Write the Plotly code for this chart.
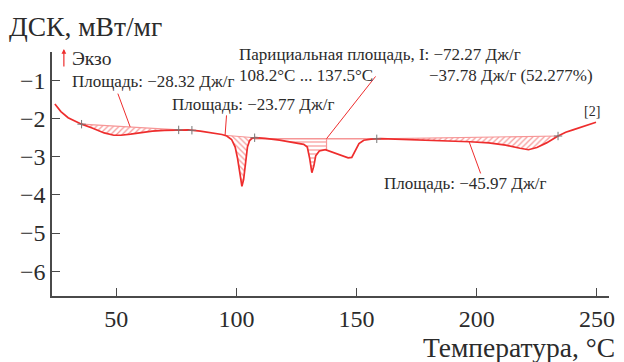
import numpy as np
import plotly.graph_objects as go

# ---- data ----
temperature = [24.5, 27, 30, 33, 35.6, 40, 45, 49, 52, 56, 60, 65, 70, 75, 80, 85, 90, 94, 96, 98,
               99.5, 100.5, 101.5, 102.3, 103, 103.8, 104.6, 105.5, 106.5, 108, 112, 118, 124, 128,
               129.5, 130.5, 131.4, 132.2, 133, 134.5, 137, 140, 144, 146.5, 148, 149.5, 151, 153,
               156, 160, 170, 180, 190, 197, 205, 212, 218, 221.5, 225, 229, 233.8, 237, 240, 245, 249.6]
dsc = [-1.62, -1.82, -1.98, -2.08, -2.15, -2.25, -2.38, -2.44, -2.44, -2.41, -2.37, -2.33, -2.31,
       -2.30, -2.30, -2.33, -2.37, -2.42, -2.46, -2.55, -2.75, -3.05, -3.45, -3.78, -3.6, -3.1,
       -2.75, -2.58, -2.52, -2.50, -2.52, -2.57, -2.63, -2.68, -2.75, -3.05, -3.42, -3.25, -2.98,
       -2.85, -2.82, -2.88, -2.96, -3.03, -3.02, -2.85, -2.66, -2.57, -2.54, -2.53, -2.55, -2.57,
       -2.59, -2.61, -2.64, -2.70, -2.78, -2.82, -2.76, -2.64, -2.46, -2.36, -2.30, -2.20, -2.10]

# integration limits (T) and hatch style
area_limits = [(35.6, 76.0), (95.0, 107.6), (158.4, 233.8)]
area_hatch = ["/", "\\", "/"]
partial_baseline = (107.6, 158.4, -2.53)
partial_limits = (108.2, 137.5)
marker_T = [35.6, 76.0, 81.5, 107.6, 158.4, 233.8]

x_ticks = [50, 100, 150, 200, 250]
y_ticks = [-1, -2, -3, -4, -5, -6]

RED = "rgb(238,45,45)"
PINK = "rgb(246,150,150)"
TXT = "#2b2b2b"
FONT = "Liberation Serif"

T = np.array(temperature)
D = np.array(dsc)

def curve_at(t):
    return float(np.interp(t, T, D))

fig = go.Figure()

# hatched areas under straight baselines
for (a, b), h in zip(area_limits, area_hatch):
    mask = (T > a) & (T < b)
    xs = [a] + list(T[mask]) + [b]
    ys = [curve_at(a)] + list(D[mask]) + [curve_at(b)]
    fig.add_trace(go.Scatter(x=xs + [a], y=ys + [curve_at(a)], mode="lines", fill="toself",
                             line=dict(width=0), fillcolor="rgba(0,0,0,0)",
                             fillpattern=dict(shape=h, fgcolor=RED, bgcolor="rgba(0,0,0,0)",
                                              size=4, solidity=0.3),
                             hoverinfo="skip", showlegend=False))
    fig.add_trace(go.Scatter(x=[a, b], y=[curve_at(a), curve_at(b)], mode="lines",
                             line=dict(color=PINK, width=1.2), hoverinfo="skip", showlegend=False))

# partial area
pa, pb = partial_limits
bx0, bx1, by = partial_baseline
mask = (T > pa) & (T < pb)
xs = [pa] + list(T[mask]) + [pb, pb, pa]
ys = [curve_at(pa)] + list(D[mask]) + [curve_at(pb), by, by]
fig.add_trace(go.Scatter(x=xs, y=ys, mode="lines", fill="toself", line=dict(width=0),
                         fillcolor="rgba(0,0,0,0)",
                         fillpattern=dict(shape="-", fgcolor=RED, bgcolor="rgba(0,0,0,0)",
                                          size=4, solidity=0.3),
                         hoverinfo="skip", showlegend=False))
fig.add_trace(go.Scatter(x=[bx0, bx1], y=[by, by], mode="lines",
                         line=dict(color=PINK, width=1.5), hoverinfo="skip", showlegend=False))
fig.add_trace(go.Scatter(x=[pb, pb], y=[by, curve_at(pb)], mode="lines",
                         line=dict(color=PINK, width=1.2), hoverinfo="skip", showlegend=False))

# main curve
fig.add_trace(go.Scatter(x=temperature, y=dsc, mode="lines",
                         line=dict(color=RED, width=1.7), showlegend=False))

# plus markers
fig.add_trace(go.Scatter(x=marker_T, y=[curve_at(t) for t in marker_T], mode="markers",
                         marker=dict(symbol="line-ns", size=6, line=dict(color="#777", width=1)),
                         showlegend=False))
fig.add_trace(go.Scatter(x=marker_T, y=[curve_at(t) for t in marker_T], mode="markers",
                         marker=dict(symbol="line-ew", size=6, line=dict(color="#777", width=1)),
                         showlegend=False))

# layout geometry
W, H = 624, 362
L, R, TOP, B = 52, 9, 52, 66
pw, ph = W - L - R, H - TOP - B

def px(x):
    return (x - L) / pw

def py(y):
    return (H - B - y) / ph

# leader lines (data coords)
leaders = [((50.7, -1.35), (55.8, -2.22)),
           ((95.9, -1.92), (95.3, -2.44)),
           ((157.9, -0.90), (137.5, -2.53)),
           ((196.8, -2.61), (201.6, -3.44))]
for (x0, y0), (x1, y1) in leaders:
    fig.add_shape(type="line", x0=x0, y0=y0, x1=x1, y1=y1, xref="x", yref="y",
                  line=dict(color=RED, width=1))

def label(text, x, y, size=17, anchor="left"):
    fig.add_annotation(text=text, x=px(x), y=py(y), xref="paper", yref="paper",
                       xanchor=anchor, yanchor="middle", showarrow=False, borderpad=0,
                       font=dict(family=FONT, size=size, color=TXT))

label("Экзо", 71, 59, size=19.5)
label("Площадь: −28.32 Дж/г", 71, 81.5)
label("Площадь: −23.77 Дж/г", 172, 104.5)
label("Парициальная площадь, I: −72.27 Дж/г", 240, 55)
label("108.2°C ... 137.5°C", 240, 75)
label("−37.78 Дж/г (52.277%)", 432, 75)
label("Площадь: −45.97 Дж/г", 387, 183)
label("[2]", 589, 111.5, size=14)

# exo arrow
fig.add_annotation(x=px(64), y=py(49), ax=0, ay=19, xref="paper", yref="paper",
                   axref="pixel", ayref="pixel", showarrow=True, arrowhead=2, arrowsize=0.8,
                   arrowwidth=1.2, arrowcolor=RED, text="")

# axis titles
fig.add_annotation(text="ДСК, мВт/мг", x=px(8), y=py(27), xref="paper", yref="paper",
                   xanchor="left", yanchor="middle", showarrow=False, borderpad=0,
                   font=dict(family=FONT, size=27.5, color=TXT))
fig.add_annotation(text="Температура, °C", x=px(622), y=py(347), xref="paper", yref="paper",
                   xanchor="right", yanchor="middle", showarrow=False, borderpad=0,
                   font=dict(family=FONT, size=27.5, color=TXT))

axis_common = dict(showline=True, linecolor="#4a4a4a", linewidth=1.5, ticks="inside",
                   ticklen=8, tickwidth=1.3, tickcolor="#4a4a4a", showgrid=False, zeroline=False,
                   tickfont=dict(family=FONT, size=24, color=TXT))
fig.update_xaxes(range=[23.3, 255], tickvals=x_ticks, ticktext=[str(v) for v in x_ticks], **axis_common)
fig.update_yaxes(range=[-6.65, -0.26], tickvals=y_ticks,
                 ticktext=["−" + str(abs(v)) for v in y_ticks], **axis_common)

fig.update_layout(width=W, height=H, margin=dict(l=L, r=R, t=TOP, b=B),
                  paper_bgcolor="white", plot_bgcolor="white", showlegend=False)

fig.write_html("out.html")
